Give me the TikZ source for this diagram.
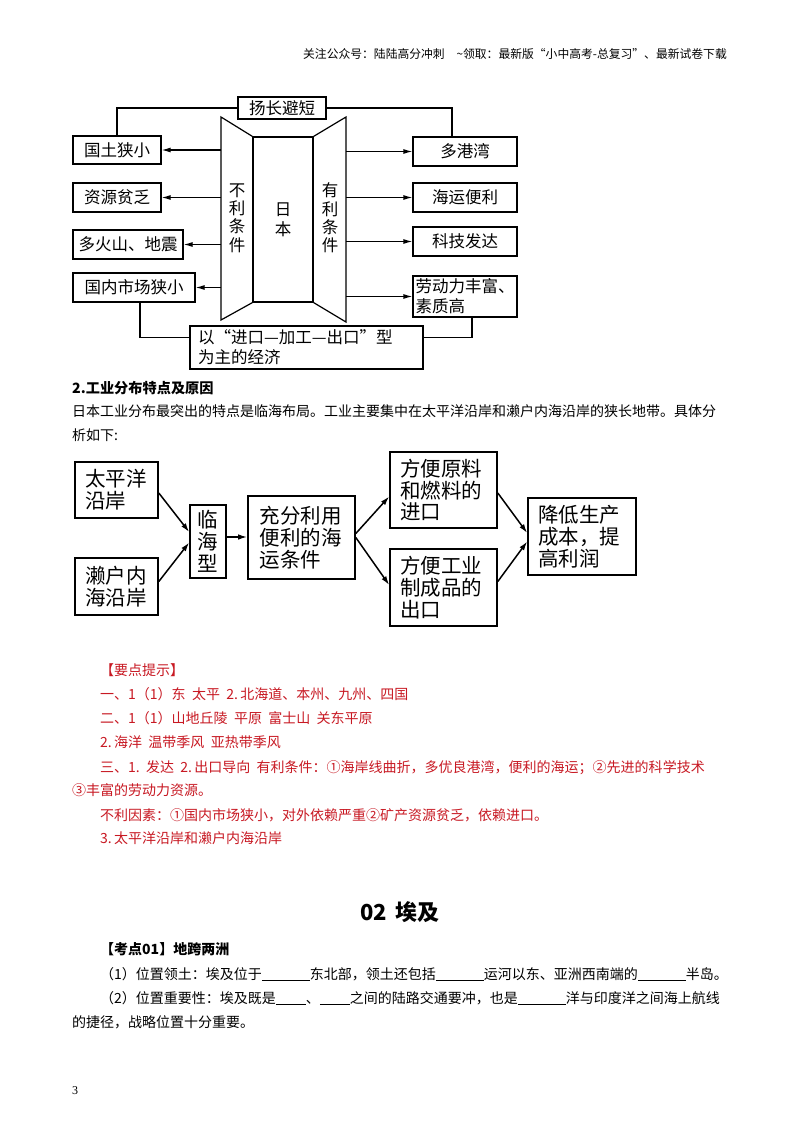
\documentclass[tikz,border=0pt]{standalone}
\usepackage{fontspec}
\setmainfont{Noto Sans CJK SC}
\newfontfamily\pnumfont{Liberation Serif}
\usetikzlibrary{arrows.meta,calc}
\definecolor{ansred}{RGB}{200,25,35}
\newcommand{\blk}[1]{\rule[-2pt]{#1}{0.6pt}}
\newcommand{\gapsp}{\hspace{0.45em}}
\begin{document}
\begin{tikzpicture}[x=1pt,y=-1pt,
  box1/.style={draw, line width=1.2pt, inner sep=0pt, font=\fontsize{16.5}{20}\selectfont},
  vlab/.style={inner sep=0pt, align=center, font=\fontsize{16.5}{18.3}\selectfont},
  ln1/.style={line width=1.2pt},
  arr1/.style={line width=1.2pt, -{Latex[length=9pt,width=5pt]}},
  box2/.style={draw, line width=1.6pt, inner sep=0pt, font=\fontsize{20.5}{21.8}\selectfont},
  arr2/.style={line width=1.5pt, -{Latex[length=9pt,width=5.5pt]}},
  body/.style={anchor=base west, inner sep=0pt, font=\fontsize{14}{16}\selectfont},
  redtxt/.style={body, text=ansred}
]
\useasboundingbox (0,0) rectangle (800,1132);
\fill[white] (0,0) rectangle (800,1132);

% header
\node[anchor=base east, inner sep=0pt, font=\fontsize{11.8}{13}\selectfont] (hdr) at (727,59)
  {关注公众号：陆陆高分冲刺\hspace{1em}\textasciitilde 领取：最新版“小中高考-总复习”、最新试卷下载};

% ---------- diagram 1 ----------
\node[box1, minimum width=88, minimum height=22] (yc) at (282,108) {扬长避短};
\node[box1, minimum width=60, minimum height=165, align=center, font=\fontsize{16.5}{20}\selectfont] (jp) at (283,219.5) {日\\本};
\coordinate (ltl) at (221,117);
\coordinate (lbl) at (221,320);
\coordinate (rtr) at (346,117);
\coordinate (rbr) at (346,322);
\draw[ln1, line join=miter] (jp.north west) -- (ltl) -- (lbl) -- (jp.south west);
\draw[ln1, line join=miter] (jp.north east) -- (rtr) -- (rbr) -- (jp.south east);
\node[vlab] (nl) at (237,218) {不\\利\\条\\件};
\node[vlab] (yl) at (330,218) {有\\利\\条\\件};

\node[box1, minimum width=88, minimum height=28] (g1) at (117,150) {国土狭小};
\node[box1, minimum width=88, minimum height=29] (g2) at (117,197.5) {资源贫乏};
\node[box1, minimum width=110, minimum height=29] (g3) at (128,244.5) {多火山、地震};
\node[box1, minimum width=122, minimum height=29] (g4) at (134,287.5) {国内市场狭小};

\node[box1, minimum width=104, minimum height=29] (r1) at (465,151.5) {多港湾};
\node[box1, minimum width=104, minimum height=29] (r2) at (465,197.5) {海运便利};
\node[box1, minimum width=104, minimum height=29] (r3) at (465,241.5) {科技发达};
\node[box1, minimum width=104, minimum height=41, text width=99, align=left] (r4) at (465,296.5) {劳动力丰富、\\素质高};

\node[box1, minimum width=233, minimum height=43, text width=217, align=left] (eco) at (306.5,347.5) {以“进口—加工—出口”型\\为主的经济};

\foreach \b in {g1,g2,g3,g4} { \draw[arr1] (ltl |- \b.east) -- (\b.east); }
\foreach \b in {r1,r2,r3,r4} { \draw[arr1] (rtr |- \b.west) -- (\b.west); }

\draw[ln1] (yc.west) -| (g1.north);
\draw[ln1] (yc.east) -| ($(r1.north)+(-13,0)$);
\draw[ln1] ($(g4.south)+(6,0)$) |- ($(eco.west)+(0,-10)$);
\draw[ln1] ($(r4.south)+(7,0)$) |- ($(eco.east)+(0,-10)$);

% ---------- text ----------
\node[body, font=\bfseries\fontsize{14.2}{16}\selectfont] (t2) at (72,393) {2.工业分布特点及原因};
\node[body] (p1) at (72,416) {日本工业分布最突出的特点是临海布局。工业主要集中在太平洋沿岸和濑户内海沿岸的狭长地带。具体分};
\node[body] (p2) at (72,440) {析如下:};

% ---------- diagram 2 ----------
\node[box2, minimum width=83, minimum height=56, text width=63, align=left] (a1) at (116.5,490) {太平洋\\沿岸};
\node[box2, minimum width=83, minimum height=57, text width=63, align=left] (a2) at (116.5,586.5) {濑户内\\海沿岸};
\node[box2, minimum width=36, minimum height=73, align=center] (b) at (208,541.5) {临\\海\\型};
\node[box2, minimum width=107, minimum height=83, text width=84, align=left] (c) at (301.5,537.5) {充分利用\\便利的海\\运条件};
\node[box2, minimum width=107, minimum height=76, text width=87, align=left] (d1) at (443.5,490) {方便原料\\和燃料的\\进口};
\node[box2, minimum width=107, minimum height=77, text width=87, align=left] (d2) at (443.5,587.5) {方便工业\\制成品的\\出口};
\node[box2, minimum width=108, minimum height=77, text width=88, align=left] (e) at (582,536.5) {降低生产\\成本，提\\高利润};

\draw[arr2] ($(a1.east)+(0,3)$) -- ($(b.west)+(0,-9.5)$);
\draw[arr2] ($(a2.east)+(0,-5)$) -- ($(b.west)+(0,1)$);
\draw[arr2] ($(b.east)+(0,-4.5)$) -- ($(c.west)+(0,-0.5)$);
\draw[arr2] ($(c.east)+(0,-4)$) -- ($(d1.west)+(0,6.5)$);
\draw[arr2] ($(c.east)+(0,0)$) -- ($(d2.west)+(0,-2.5)$);
\draw[arr2] ($(d1.east)+(0,3)$) -- ($(e.west)+(0,-3.5)$);
\draw[arr2] ($(d2.east)+(0,-6)$) -- ($(e.west)+(0,5)$);

% ---------- red answers ----------
\node[redtxt] (k0) at (100,675) {【要点提示】};
\node[redtxt] (k1) at (100,699) {一、1（1）东\gapsp 太平\gapsp 2.\,北海道、本州、九州、四国};
\node[redtxt] (k2) at (100,723) {二、1（1）山地丘陵\gapsp 平原\gapsp 富士山\gapsp 关东平原};
\node[redtxt] (k3) at (100,747) {2.\,海洋\gapsp 温带季风\gapsp 亚热带季风};
\node[redtxt] (k4) at (100,772) {三、1.\gapsp 发达\gapsp 2.\,出口导向\gapsp 有利条件：①海岸线曲折，多优良港湾，便利的海运；②先进的科学技术};
\node[redtxt] (k5) at (72,795) {③丰富的劳动力资源。};
\node[redtxt] (k6) at (100,820) {不利因素：①国内市场狭小，对外依赖严重②矿产资源贫乏，依赖进口。};
\node[redtxt] (k7) at (100,843) {3.\,太平洋沿岸和濑户内海沿岸};

% ---------- Egypt ----------
\node[anchor=base, inner sep=0pt, font=\bfseries\fontsize{22}{24}\selectfont] (eg) at (400,920) {02\hspace{0.4em}埃及};
\node[body, font=\bfseries\fontsize{14}{16}\selectfont] (kd) at (100,954) {【考点01】地跨两洲};
\node[body] (q1) at (100,979) {（1）位置领土：埃及位于\blk{48pt}东北部，领土还包括\blk{48pt}运河以东、亚洲西南端的\blk{48pt}半岛。};
\node[body] (q2) at (100,1003) {（2）位置重要性：埃及既是\blk{30pt}、\blk{30pt}之间的陆路交通要冲，也是\blk{48pt}洋与印度洋之间海上航线};
\node[body] (q3) at (72,1027) {的捷径，战略位置十分重要。};

\node[anchor=base west, inner sep=0pt, font=\pnumfont\fontsize{12}{14}\selectfont] (pg) at (72,1094) {3};
\end{tikzpicture}
\end{document}
